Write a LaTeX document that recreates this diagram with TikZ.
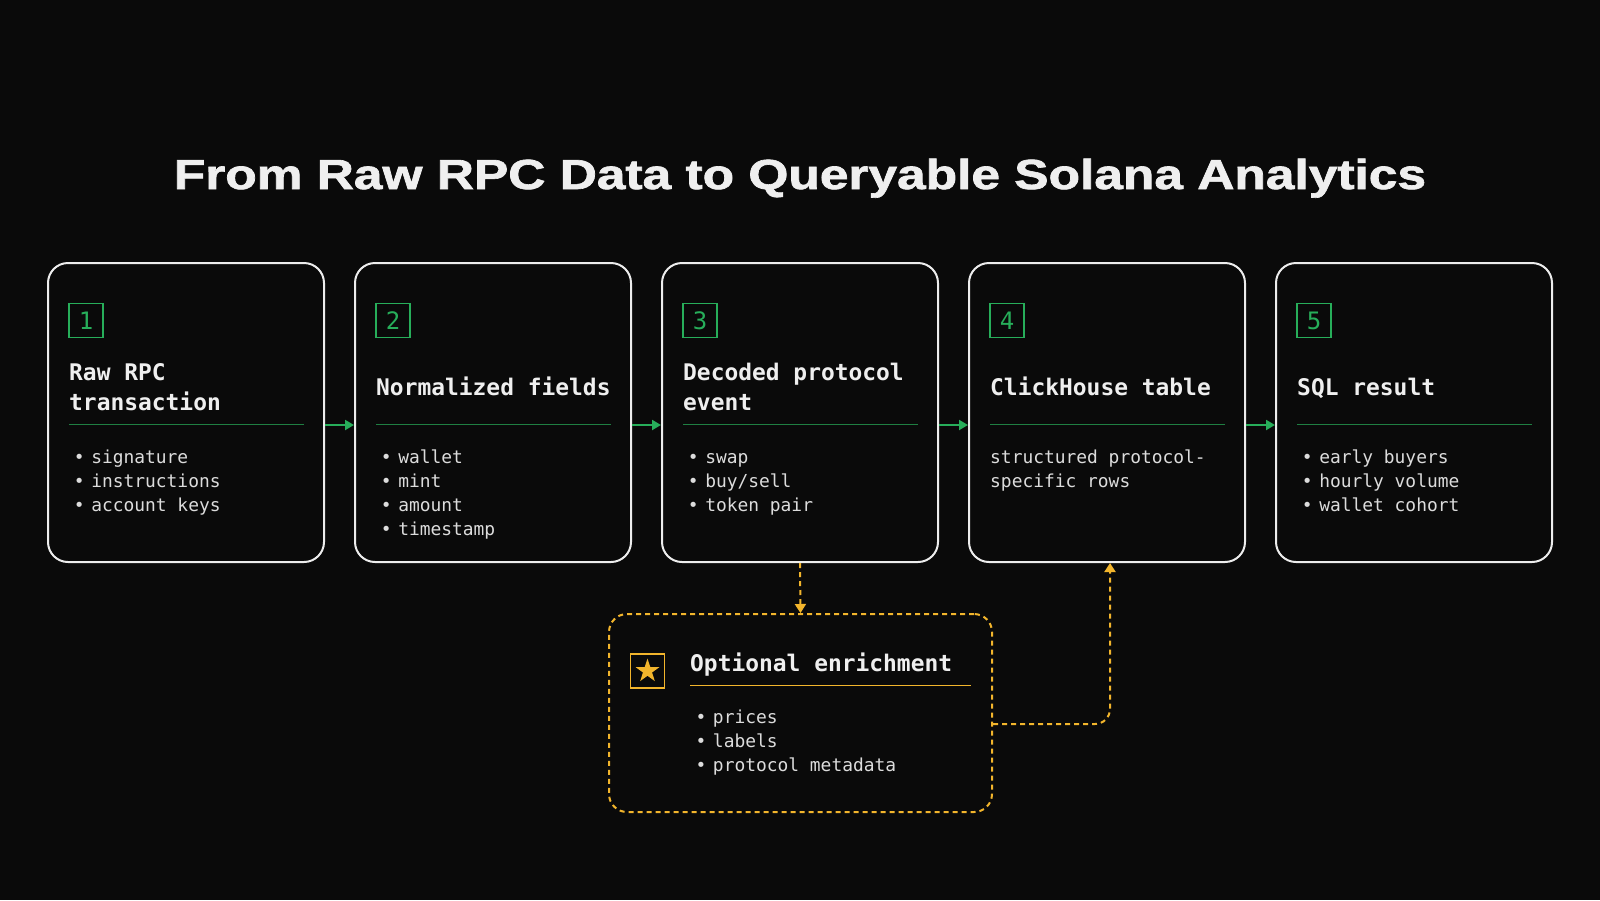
\documentclass[tikz,border=0pt]{standalone}
\usepackage{fontspec}
\setmainfont{Liberation Sans}
\newfontfamily\monofont{DejaVu Sans Mono}
\newfontfamily\titlefont[BoldFeatures={FakeBold=1.5}]{Liberation Sans}
\usetikzlibrary{arrows.meta,positioning,shapes.geometric}

\definecolor{bgc}{HTML}{0A0A0A}
\definecolor{edge}{HTML}{EDEDED}
\definecolor{ink}{HTML}{EFEFEF}
\definecolor{soft}{HTML}{DCDCDC}
\definecolor{grn}{HTML}{27AE5A}
\definecolor{grnrule}{HTML}{1F7F42}
\definecolor{ylw}{HTML}{F2B52C}

\begin{document}
\begin{tikzpicture}[
  x=1pt, y=-1pt,
  stage/.style ={draw=edge, line width=2pt, rounded corners=20pt, fill=bgc,
                 minimum width=276pt, minimum height=299pt, inner sep=0pt},
  num/.style   ={draw=grn, line width=1.2pt, minimum size=34pt, inner sep=0pt,
                 text=grn, font=\monofont\fontsize{24}{24}\selectfont},
  head/.style  ={anchor=base west, text width=245pt, align=flush left, inner sep=0pt,
                 text=ink, font=\monofont\bfseries\fontsize{22.9}{30}\selectfont,
                 execute at begin node={\spaceskip=0.602em\xspaceskip=0.602em\relax}},
  items/.style ={anchor=base west, text width=245pt, align=flush left, inner sep=0pt,
                 text=soft, font=\monofont\fontsize{17.9}{24}\selectfont,
                 execute at begin node={\spaceskip=0.602em\xspaceskip=0.602em\relax}},
  rule/.style  ={grnrule, line width=1pt},
  flow/.style  ={-{Triangle[length=9pt,width=10pt]}, grn, line width=2pt},
  opt/.style   ={draw=ylw, dash pattern=on 5pt off 4pt, line width=2pt,
                 rounded corners=18pt, minimum width=383pt, minimum height=198pt,
                 inner sep=0pt},
  link/.style  ={-{Triangle[length=9pt,width=11pt]}, ylw, line width=2pt,
                 dash pattern=on 5pt off 4pt},
]

\fill[bgc] (0,0) rectangle (1600,900);
\useasboundingbox (0,0) rectangle (1600,900);

\def\xa{186}
\def\xb{493}
\def\xc{800}
\def\xd{1107}
\def\xe{1414}
\def\bul{•\kern6.7pt}

\node[text=ink, font=\titlefont\bfseries\fontsize{42}{50}\selectfont, anchor=base, inner sep=0pt]
  (title) at (800,189) {\scalebox{1.225}[1]{From Raw RPC Data to Queryable Solana Analytics}};

% the five stages
\node[stage] (b1) at (\xa,412.5) {};
\node[stage] (b2) at (\xb,412.5) {};
\node[stage] (b3) at (\xc,412.5) {};
\node[stage] (b4) at (\xd,412.5) {};
\node[stage] (b5) at (\xe,412.5) {};

\node[num] (n1) at (\xa-100,320.5) {1};
\node[num] (n2) at (\xb-100,320.5) {2};
\node[num] (n3) at (\xc-100,320.5) {3};
\node[num] (n4) at (\xd-100,320.5) {4};
\node[num] (n5) at (\xe-100,320.5) {5};

\node[head] (h1) at (\xa-117,380) {Raw RPC\\transaction};
\node[head] (h2) at (\xb-117,395) {Normalized fields};
\node[head] (h3) at (\xc-117,380) {Decoded protocol\\event};
\node[head] (h4) at (\xd-117,395) {ClickHouse table};
\node[head] (h5) at (\xe-117,395) {SQL result};

\draw[rule] (\xa-117,424) -- (\xa+118,424);
\draw[rule] (\xb-117,424) -- (\xb+118,424);
\draw[rule] (\xc-117,424) -- (\xc+118,424);
\draw[rule] (\xd-117,424) -- (\xd+118,424);
\draw[rule] (\xe-117,424) -- (\xe+118,424);

\node[items] (i1) at (\xa-112.4,463) {\bul signature\\\bul instructions\\\bul account keys};
\node[items] (i2) at (\xb-112.4,463) {\bul wallet\\\bul mint\\\bul amount\\\bul timestamp};
\node[items] (i3) at (\xc-112.4,463) {\bul swap\\\bul buy/sell\\\bul token pair};
\node[items] (i4) at (\xd-117,463) {structured protocol-\\specific rows};
\node[items] (i5) at (\xe-112.4,463) {\bul early buyers\\\bul hourly volume\\\bul wallet cohort};

\draw[flow] ([yshift=-12.5pt]b1.east) -- ([yshift=-12.5pt]b2.west);
\draw[flow] ([yshift=-12.5pt]b2.east) -- ([yshift=-12.5pt]b3.west);
\draw[flow] ([yshift=-12.5pt]b3.east) -- ([yshift=-12.5pt]b4.west);
\draw[flow] ([yshift=-12.5pt]b4.east) -- ([yshift=-12.5pt]b5.west);

% optional side branch
\node[opt] (enr) at (800.5,713) {};
\node[draw=ylw, line width=1.2pt, minimum size=34pt, inner sep=0pt] (sbox) at (647.5,671) {};
\node[star, star points=5, star point ratio=2.618, fill=ylw, minimum size=25pt,
      inner sep=0pt] (star) at (sbox.center) {};
\node[head, text width=280pt] (he) at (690,671) {Optional enrichment};
\draw[line width=1pt, ylw] (690,685.3) -- (971,685.3);
\node[items, text width=270pt] (ie) at (695.3,723) {\bul prices\\\bul labels\\\bul protocol metadata};

\draw[link] (b3.south) -- (enr.north);
\draw[link, rounded corners=15pt] ([yshift=-11pt]enr.east) -| ([xshift=3pt]b4.south);

\end{tikzpicture}
\end{document}
